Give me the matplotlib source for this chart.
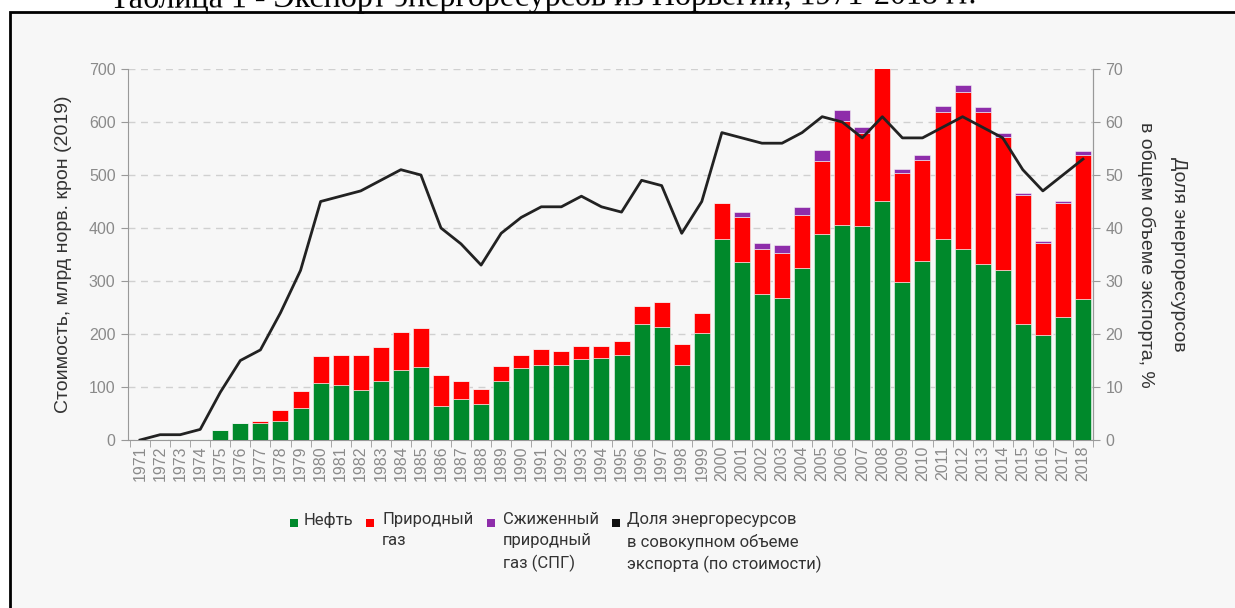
import matplotlib
matplotlib.use("Agg")
import matplotlib.pyplot as plt
from matplotlib.patches import Rectangle
import numpy as np

years = list(range(1971, 2019))
oil = [0, 2, 2, 2, 19, 32, 32, 36, 60, 107, 103, 94, 112, 133, 137, 65, 77, 67, 112, 136,
       142, 142, 152, 154, 160, 219, 214, 141, 201, 379, 335, 276, 268, 324, 389, 406, 404, 451,
       299, 337, 379, 360, 333, 320, 219, 199, 233, 266]
gas = [0, 0, 0, 0, 0, 0, 4, 21, 32, 52, 58, 67, 64, 71, 74, 58, 34, 30, 28, 25,
       30, 26, 25, 23, 27, 34, 46, 41, 39, 69, 86, 84, 84, 101, 137, 195, 176, 252,
       204, 192, 240, 297, 286, 251, 243, 173, 214, 272]
lng = [0, 0, 0, 0, 0, 0, 0, 0, 0, 0, 0, 0, 0, 0, 0, 0, 0, 0, 0, 0,
       0, 0, 0, 0, 0, 0, 0, 0, 0, 0, 10, 11, 15, 15, 22, 22, 11, 0,
       8, 8, 12, 13, 10, 9, 4, 3, 4, 8]
share = [0, 1, 1, 2, 9, 15, 17, 24, 32, 45, 46, 47, 49, 51, 50, 40, 37, 33, 39, 42,
         44, 44, 46, 44, 43, 49, 48, 39, 45, 58, 57, 56, 56, 58, 61, 60, 57, 61,
         57, 57, 59, 61, 59, 57, 51, 47, 50, 53]

left_ticks = [0, 100, 200, 300, 400, 500, 600, 700]
right_ticks = [0, 10, 20, 30, 40, 50, 60, 70]

C_OIL = "#00892b"
C_GAS = "#ff0000"
C_LNG = "#8e2daa"
C_LINE = "#222222"
C_TICK = "#8a8a8a"
C_TEXT = "#333333"

arial = ["Liberation Sans", "DejaVu Sans"]
legend_font = ["Roboto", "Open Sans", "DejaVu Sans"]
plt.rcParams["font.family"] = arial

W, H = 1235, 608
fig = plt.figure(figsize=(W / 100, H / 100), dpi=100)
fig.patch.set_facecolor("white")

# frame with light grey fill
frame = Rectangle((10 / W, -0.05), 1.2, 1 - 12 / H + 0.05, transform=fig.transFigure,
                  facecolor="#f7f7f7", edgecolor="black", linewidth=2, zorder=-10)
fig.patches.append(frame)

# cut-off caption
fig.text(543 / W, 1 - 6 / H, "Таблица 1 - Экспорт энергоресурсов из Норвегии, 1971-2018 гг.",
         ha="center", va="baseline", fontsize=23, family=["Liberation Serif", "DejaVu Serif"],
         color="black", rotation=0.3, rotation_mode="anchor")

ax = fig.add_axes([128 / W, 1 - 440 / H, (1093 - 128) / W, (440 - 69) / H])
ax.set_facecolor("none")
x = np.arange(len(years))
oil_a = np.array(oil, float)
gas_a = np.array(gas, float)
lng_a = np.array(lng, float)
bw = 0.8
ax.bar(x, oil_a, width=bw, color=C_OIL, zorder=3, edgecolor="#f7f7f7", linewidth=0.4)
ax.bar(x, gas_a, bottom=oil_a, width=bw, color=C_GAS, zorder=3, edgecolor="#f7f7f7", linewidth=0.4)
ax.bar(x, lng_a, bottom=oil_a + gas_a, width=bw, color=C_LNG, zorder=3, edgecolor="#f7f7f7", linewidth=0.4)

ax.set_xlim(-0.6, 47.5)
ax.set_ylim(0, 700)
ax.set_yticks(left_ticks)
ax.set_yticklabels([str(t) for t in left_ticks])
ax.yaxis.grid(True, linestyle=(0, (5, 4)), color="#d0d0d0", linewidth=1, zorder=0)
ax.set_xticks(x)
ax.set_xticklabels([str(y) for y in years], rotation=90, fontsize=11.5, color=C_TICK)
ax.tick_params(axis="x", which="major", length=0, pad=4)
ax.set_xticks(np.arange(-0.5, 48, 1), minor=True)
ax.tick_params(axis="x", which="minor", length=5, color="#999999")
ax.tick_params(axis="y", length=5, color="#999999", labelcolor=C_TICK, labelsize=11.5, pad=4)
ax.spines["top"].set_visible(False)
for s in ["left", "bottom", "right"]:
    ax.spines[s].set_color("#999999")
ax.set_ylabel("Стоимость, млрд норв. крон (2019)", fontsize=14, color=C_TEXT, labelpad=12)

ax2 = ax.twinx()
ax2.plot(x, share, color=C_LINE, linewidth=2, zorder=5)
ax2.set_ylim(0, 70)
ax2.set_yticks(right_ticks)
ax2.tick_params(axis="y", length=5, color="#999999", labelcolor=C_TICK, labelsize=11.5, pad=4)
for s in ["top", "left", "bottom"]:
    ax2.spines[s].set_visible(False)
ax2.spines["right"].set_color("#999999")
ax2.set_ylabel("Доля энергоресурсов\nв общем объеме экспорта, %", rotation=-90, fontsize=14,
               color=C_TEXT, labelpad=46, linespacing=2.05)

# legend drawn manually
items = [
    (290, C_OIL, 304, "Нефть"),
    (366, C_GAS, 382, "Природный\nгаз"),
    (487, C_LNG, 503, "Сжиженный\nприродный\nгаз (СПГ)"),
    (612, "#111111", 627, "Доля энергоресурсов\nв совокупном объеме\nэкспорта (по стоимости)"),
]
for sx, col, tx, label in items:
    fig.patches.append(Rectangle((sx / W, 1 - 527 / H), 8 / W, 8 / H, transform=fig.transFigure,
                                 facecolor=col, edgecolor="none"))
    fig.text(tx / W, 1 - 512 / H, label, ha="left", va="top", fontsize=12, color=C_TEXT,
             family=legend_font, linespacing=1.5)

fig.savefig("out.png", dpi=100)
